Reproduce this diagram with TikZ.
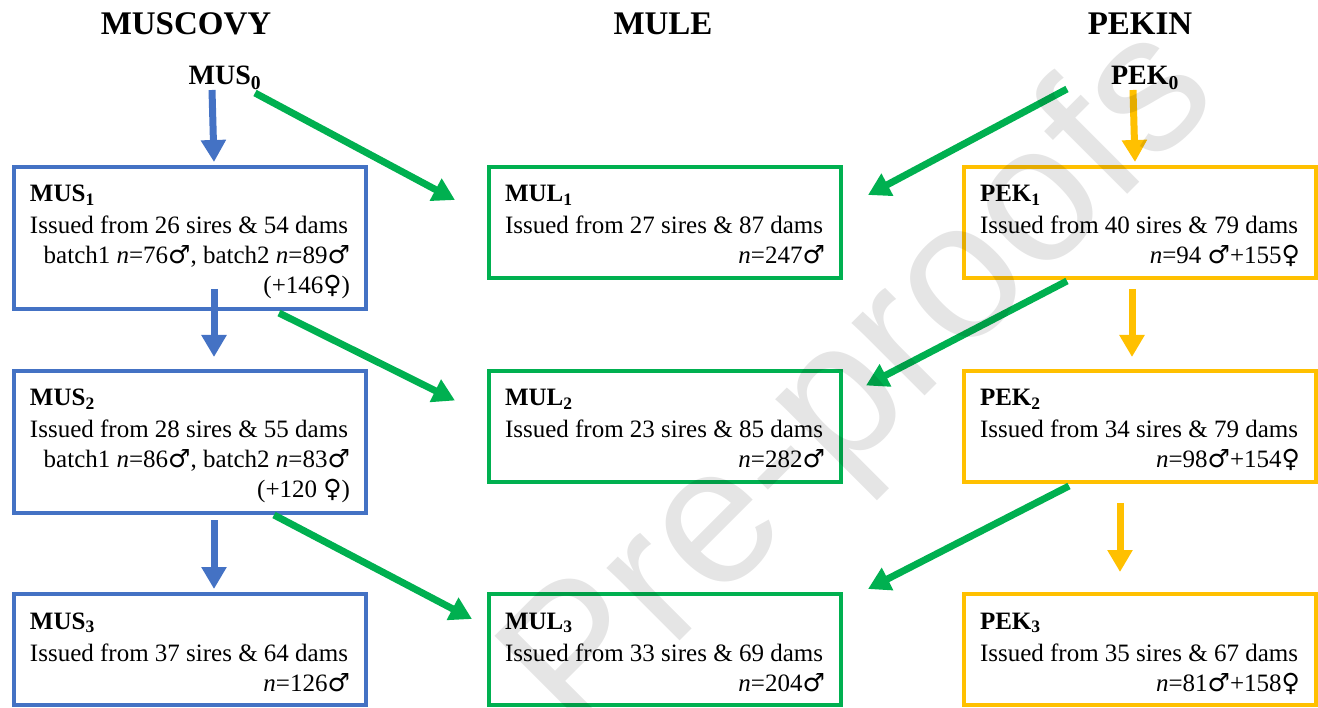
\documentclass[tikz,border=0pt]{standalone}
\usepackage{fontspec}
\setmainfont{Liberation Serif}
\newfontfamily\wmfont{Liberation Sans}
\newfontfamily\symfont{DejaVu Sans}
\newcommand{\malesym}{{\symfont ♂}}
\newcommand{\femalesym}{{\symfont ♀}}
\usetikzlibrary{arrows.meta}
\definecolor{musblue}{HTML}{4472C4}
\definecolor{mulgreen}{HTML}{00B050}
\definecolor{pekgold}{HTML}{FFC000}
\begin{document}
\begin{tikzpicture}[
    x=1pt, y=-1pt,
    box/.style={rectangle, draw, line width=4pt, anchor=north west, inner xsep=15pt, inner ysep=18.5pt,
        minimum width=352pt, text width=320pt, text height=16.5pt, text depth=57.5pt, align=left,
        font=\fontsize{25pt}{30pt}\selectfont, execute at begin node={\spaceskip=0pt\xspaceskip=0pt\relax}},
    tallbox/.style={box, text depth=88.5pt},
    musbox/.style={tallbox, draw=musblue},
    mulbox/.style={box, draw=mulgreen},
    pekbox/.style={box, draw=pekgold},
    arrow/.style={line width=7pt, -{Triangle[length=22pt, width=24pt]}},
    musarrow/.style={arrow, musblue},
    mularrow/.style={arrow, mulgreen},
    pekarrow/.style={arrow, pekgold},
    title/.style={anchor=base, font=\fontsize{33pt}{40pt}\selectfont\bfseries},
    parent/.style={anchor=base, font=\fontsize{28pt}{34pt}\selectfont\bfseries},
    wm/.style={rotate=45, text=black, text opacity=0.1, font=\fontsize{195pt}{195pt}\wmfont}
]
\useasboundingbox (0,0) rectangle (1318,708);

% Titles
\node[title] (muscovy) at (186,35) {MUSCOVY};
\node[title] (mule) at (663,35) {MULE};
\node[title] (pekin) at (1140,35) {PEKIN};
\node[parent] (mus0) at (225,85) {MUS\textsubscript{0}};
\node[parent] (pek0) at (1145,85) {PEK\textsubscript{0}};

% Muscovy
\node[musbox] (mus1) at (12,165) {\textbf{MUS\textsubscript{1}}\\[2pt]
    Issued from 26 sires \& 54 dams\\
    \hspace*{\fill}batch1 \textit{n}=76\malesym, batch2 \textit{n}=89\malesym\\
    \hspace*{\fill}(+146\femalesym)};
\node[musbox] (mus2) at (12,369) {\textbf{MUS\textsubscript{2}}\\[2pt]
    Issued from 28 sires \& 55 dams\\
    \hspace*{\fill}batch1 \textit{n}=86\malesym, batch2 \textit{n}=83\malesym\\
    \hspace*{\fill}(+120 \femalesym)};
\node[box, draw=musblue] (mus3) at (12,592) {\textbf{MUS\textsubscript{3}}\\[2pt]
    Issued from 37 sires \& 64 dams\\
    \hspace*{\fill}\textit{n}=126\malesym};

% Mule
\node[mulbox] (mul1) at (487,165) {\textbf{MUL\textsubscript{1}}\\[2pt]
    Issued from 27 sires \& 87 dams\\
    \hspace*{\fill}\textit{n}=247\malesym};
\node[mulbox] (mul2) at (487,369) {\textbf{MUL\textsubscript{2}}\\[2pt]
    Issued from 23 sires \& 85 dams\\
    \hspace*{\fill}\textit{n}=282\malesym};
\node[mulbox] (mul3) at (487,592) {\textbf{MUL\textsubscript{3}}\\[2pt]
    Issued from 33 sires \& 69 dams\\
    \hspace*{\fill}\textit{n}=204\malesym};

% Pekin
\node[pekbox] (pek1) at (962,165) {\textbf{PEK\textsubscript{1}}\\[2pt]
    Issued from 40 sires \& 79 dams\\
    \hspace*{\fill}\textit{n}=94 \malesym+155\femalesym};
\node[pekbox] (pek2) at (962,369) {\textbf{PEK\textsubscript{2}}\\[2pt]
    Issued from 34 sires \& 79 dams\\
    \hspace*{\fill}\textit{n}=98\malesym+154\femalesym};
\node[pekbox] (pek3) at (962,592) {\textbf{PEK\textsubscript{3}}\\[2pt]
    Issued from 35 sires \& 67 dams\\
    \hspace*{\fill}\textit{n}=81\malesym+158\femalesym};

% Generations
\draw[musarrow] ([xshift=-13pt, yshift=-5pt]mus0.base) -- ([xshift=24pt, yshift=3pt]mus1.north);
\draw[musarrow] ([xshift=24pt, yshift=22pt]mus1.south) -- ([xshift=24pt, yshift=12pt]mus2.north);
\draw[musarrow] ([xshift=24pt, yshift=-5pt]mus2.south) -- ([xshift=24pt, yshift=3pt]mus3.north);
\draw[pekarrow] ([xshift=-12pt, yshift=-5pt]pek0.base) -- ([xshift=-5pt, yshift=3pt]pek1.north);
\draw[pekarrow] ([xshift=-8pt, yshift=-9pt]pek1.south) -- ([xshift=-8pt, yshift=12pt]pek2.north);
\draw[pekarrow] ([xshift=-20pt, yshift=-19pt]pek2.south) -- ([xshift=-20pt, yshift=20pt]pek3.north);

% Crosses
\draw[mularrow] ([xshift=30pt, yshift=-8pt]mus0.base) -- ([xshift=-32pt, yshift=22.5pt]mul1.west);
\draw[mularrow] ([xshift=89pt, yshift=-2pt]mus1.south) -- ([xshift=-32pt, yshift=26pt]mul2.west);
\draw[mularrow] ([xshift=84pt]mus2.south) -- ([xshift=-15pt, yshift=30.5pt]mul3.west);
\draw[mularrow] ([xshift=-78pt, yshift=-4pt]pek0.base) -- ([xshift=25pt, yshift=27.5pt]mul1.east);
\draw[mularrow] ([xshift=-73pt, yshift=-1pt]pek1.south) -- ([xshift=23pt, yshift=41pt]mul2.east);
\draw[mularrow] ([xshift=-71pt, yshift=-2pt]pek2.south) -- ([xshift=25pt, yshift=60.5pt]mul3.east);

% Watermark
\node[wm] (proofs) at (865,385) {Pre-proofs};

\end{tikzpicture}
\end{document}
